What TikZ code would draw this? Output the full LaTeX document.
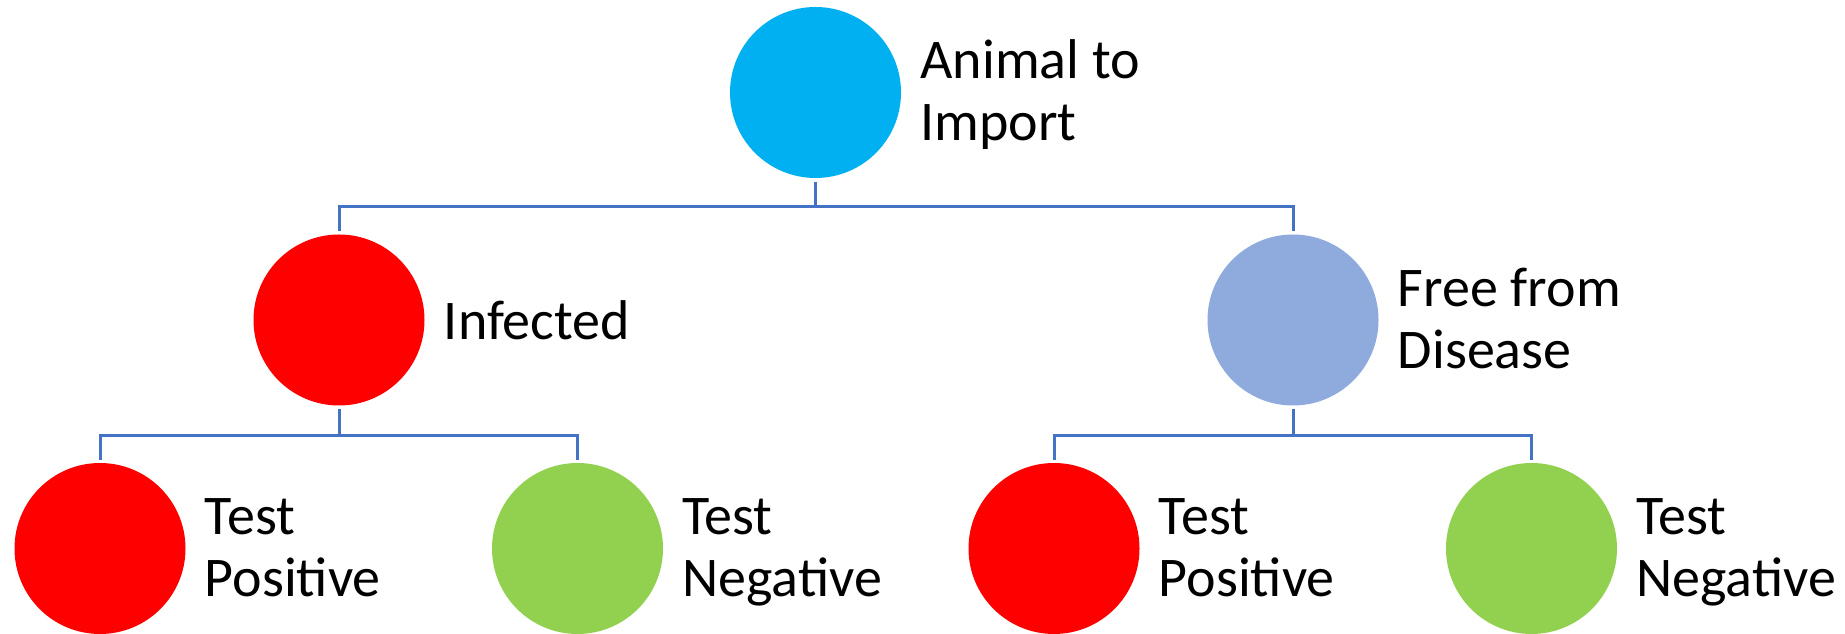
\documentclass[tikz,border=0pt]{standalone}
\usepackage{fontspec}
\setmainfont{Carlito}
\usepackage{tikz}
\usetikzlibrary{positioning}
\usepackage{xcolor}
\definecolor{rootcyan}{HTML}{00B0F0}
\definecolor{sickred}{HTML}{FF0000}
\definecolor{freeblue}{HTML}{8FAADC}
\definecolor{okgreen}{HTML}{92D050}
\definecolor{linkblue}{HTML}{4472C4}

\begin{document}
\begin{tikzpicture}[
        x=1pt, y=1pt,
        node distance=19pt,
        blob/.style={circle, minimum size=171pt, inner sep=0pt},
        txt/.style={align=left, inner sep=0pt, font=\fontsize{56}{62}\selectfont},
        twoline/.style={txt, yshift=-5pt},
        link/.style={draw=linkblue, line width=3pt}
    ]
    \useasboundingbox (0,0) rectangle (1845,634);

    \node[blob, fill=rootcyan] (root) at (815.5,541.5) {};
    \node[blob, fill=sickred] (infected) at (339,314) {};
    \node[blob, fill=freeblue] (free) at (1293,314) {};
    \node[blob, fill=sickred] (infpos) at (100,85.5) {};
    \node[blob, fill=okgreen] (infneg) at (577.5,85.5) {};
    \node[blob, fill=sickred] (freepos) at (1054,85.5) {};
    \node[blob, fill=okgreen] (freeneg) at (1531.5,85.5) {};

    \node[twoline, right=of root] (rootlbl) {\strut Animal to\\Import\strut};
    \node[txt, right=of infected] (infectedlbl) {Infected};
    \node[twoline, right=of free] (freelbl) {\strut Free from\\Disease\strut};
    \node[twoline, right=of infpos] (infposlbl) {\strut Test\\Positive\strut};
    \node[twoline, right=of infneg] (infneglbl) {\strut Test\\Negative\strut};
    \node[twoline, right=of freepos] (freeposlbl) {\strut Test\\Positive\strut};
    \node[twoline, right=of freeneg] (freeneglbl) {\strut Test\\Negative\strut};

    \draw[link] ([yshift=-3.5pt]root.south) -- ++(0,-25) -| ([yshift=3pt]infected.north);
    \draw[link] ([yshift=-3.5pt]root.south) -- ++(0,-25) -| ([yshift=3pt]free.north);
    \draw[link] ([yshift=-3.5pt]infected.south) -- ++(0,-26) -| ([yshift=3pt]infpos.north);
    \draw[link] ([yshift=-3.5pt]infected.south) -- ++(0,-26) -| ([yshift=3pt]infneg.north);
    \draw[link] ([yshift=-3.5pt]free.south) -- ++(0,-26) -| ([yshift=3pt]freepos.north);
    \draw[link] ([yshift=-3.5pt]free.south) -- ++(0,-26) -| ([yshift=3pt]freeneg.north);

\end{tikzpicture}
\end{document}
